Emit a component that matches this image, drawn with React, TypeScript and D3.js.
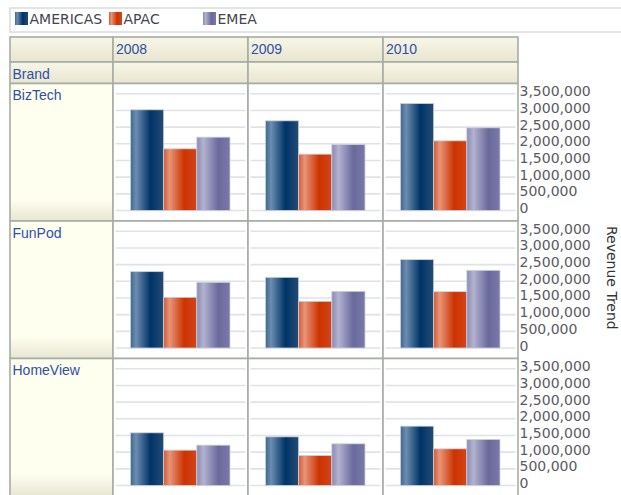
import React from 'react';
import { scaleBand, scaleLinear, range, format } from 'd3';

// values, per brand (row) then year (column)
const years = ['2008', '2009', '2010'];
const brands = ['BizTech', 'FunPod', 'HomeView'];
const seriesNames = ['AMERICAS', 'APAC', 'EMEA'];

const americas = [
  [3020000, 2690000, 3210000],
  [2290000, 2120000, 2650000],
  [1580000, 1460000, 1780000],
];
const apac = [
  [1850000, 1690000, 2090000],
  [1520000, 1400000, 1690000],
  [1060000, 900000, 1100000],
];
const emea = [
  [2200000, 1980000, 2480000],
  [1970000, 1700000, 2330000],
  [1210000, 1250000, 1380000],
];
const ticks = range(0, 3500001, 500000);
const axisTitle = 'Revenue Trend';
const headerLabel = 'Brand';

const seriesData = [americas, apac, emea];
const gradIds = ['gAm', 'gAp', 'gEm'];

const W = 621;
const H = 495;
const tableLeft = 10;
const labelRight = 113;
const tableRight = 518;
const headTop = 37;
const headMid = 62;
const headBottom = 83.5;

const fnt = '"Liberation Sans", Arial, sans-serif';
const axisFnt = '"DejaVu Sans", Verdana, sans-serif';
const border = '#a5ada5';
const blue = '#2f4fa6';

export default function App() {
  const xCol = scaleBand<string>().domain(years).range([labelRight, tableRight]);
  const yRow = scaleBand<string>().domain(brands).range([headBottom, headBottom + 3 * 137.5]);
  const cw = xCol.bandwidth();
  const rh = yRow.bandwidth();
  const xSer = scaleBand<string>().domain(seriesNames).range([17.5, 117]);
  const legendX = scaleBand<string>().domain(seriesNames).range([15, 15 + 94 * 3]);
  const fmt = format(',');

  return (
    <svg width={W} height={H} style={{ position: 'absolute', left: 0, top: 0 }}>
      <defs>
        <linearGradient id="gAm" x1="0" x2="1" y1="0" y2="0">
          <stop offset="0" stopColor="#3e6790" />
          <stop offset="0.17" stopColor="#6b8db0" />
          <stop offset="0.6" stopColor="#003366" />
          <stop offset="1" stopColor="#234c77" />
        </linearGradient>
        <linearGradient id="gAp" x1="0" x2="1" y1="0" y2="0">
          <stop offset="0" stopColor="#d4592f" />
          <stop offset="0.18" stopColor="#e8957a" />
          <stop offset="0.62" stopColor="#cc3300" />
          <stop offset="1" stopColor="#d2451a" />
        </linearGradient>
        <linearGradient id="gEm" x1="0" x2="1" y1="0" y2="0">
          <stop offset="0" stopColor="#8a8ab4" />
          <stop offset="0.2" stopColor="#b2b2cf" />
          <stop offset="0.65" stopColor="#69699c" />
          <stop offset="1" stopColor="#7979a9" />
        </linearGradient>
        <linearGradient id="gHead" x1="0" x2="0" y1="0" y2="1">
          <stop offset="0" stopColor="#f8f6e6" />
          <stop offset="1" stopColor="#e8e6d0" />
        </linearGradient>
        <linearGradient id="gLabel" x1="0" x2="0" y1="0" y2="1">
          <stop offset="0" stopColor="#fffff0" />
          <stop offset="0.84" stopColor="#fffff0" />
          <stop offset="1" stopColor="#e8e6d3" />
        </linearGradient>
      </defs>

      {/* legend */}
      <rect x={10} y={8} width={W} height={24} fill="#fff" stroke="#cfd1d4" strokeWidth={1.2} />
      {seriesNames.map((s, i) => (
        <g key={s} transform={`translate(${legendX(s)},12)`}>
          <rect width={13} height={13} fill={`url(#${gradIds[i]})`} />
          <text x={14.5} y={11.5} fontFamily={axisFnt} fontSize={14} fill="#45454f">{s}</text>
        </g>
      ))}

      {/* header rows */}
      {[headTop, headMid].map((top, r) => {
        const h = r === 0 ? headMid - headTop : headBottom - headMid;
        return (
          <g key={top}>
            <rect x={tableLeft} y={top} width={labelRight - tableLeft} height={h} fill="url(#gHead)" stroke={border} strokeWidth={1.6} />
            {years.map(y => (
              <rect key={y} x={xCol(y)} y={top} width={cw} height={h} fill="url(#gHead)" stroke={border} strokeWidth={1.6} />
            ))}
          </g>
        );
      })}
      {years.map(y => (
        <text key={y} x={(xCol(y) as number) + 3} y={headTop + 16.5} fontFamily={fnt} fontSize={14} fill={blue}>{y}</text>
      ))}
      <text x={12.5} y={headMid + 16.5} fontFamily={fnt} fontSize={14} fill={blue}>{headerLabel}</text>

      {/* body rows */}
      {brands.map((b, bi) => {
        const top = yRow(b) as number;
        const yv = scaleLinear().domain([0, 3500000]).range([top + 127, top + 10.3]);
        return (
          <g key={b}>
            <rect x={tableLeft} y={top} width={labelRight - tableLeft} height={rh} fill="url(#gLabel)" stroke={border} strokeWidth={1.6} />
            <text x={12.5} y={top + 16.5} fontFamily={fnt} fontSize={14} fill={blue}>{b}</text>
            {years.map((yr, yi) => {
              const cx = xCol(yr) as number;
              return (
                <g key={yr}>
                  <rect x={cx} y={top} width={cw} height={rh} fill="#fff" stroke={border} strokeWidth={1.6} />
                  {ticks.map(t => (
                    <line key={t} x1={cx + 2.5} x2={cx + cw - 2.5} y1={yv(t)} y2={yv(t)} stroke="#e1e1ea" strokeWidth={1.6} />
                  ))}
                  {seriesNames.map((s, si) => {
                    const v = seriesData[si][bi][yi];
                    return (
                      <rect key={s}
                        x={cx + (xSer(s) as number)} y={yv(v)}
                        width={xSer.bandwidth()} height={yv(0) - yv(v)}
                        fill={`url(#${gradIds[si]})`} stroke="#cfd2dc" strokeWidth={0.8} />
                    );
                  })}
                </g>
              );
            })}
            {ticks.map(t => (
              <text key={t} x={519.5} y={yv(t) - 2.5} dominantBaseline="central" fontFamily={axisFnt} fontSize={14} fill="#5a5a62">{fmt(t)}</text>
            ))}
          </g>
        );
      })}

      <text transform={`translate(607,226) rotate(90)`} fontFamily={axisFnt} fontSize={14} fill="#333">{axisTitle}</text>
    </svg>
  );
}
